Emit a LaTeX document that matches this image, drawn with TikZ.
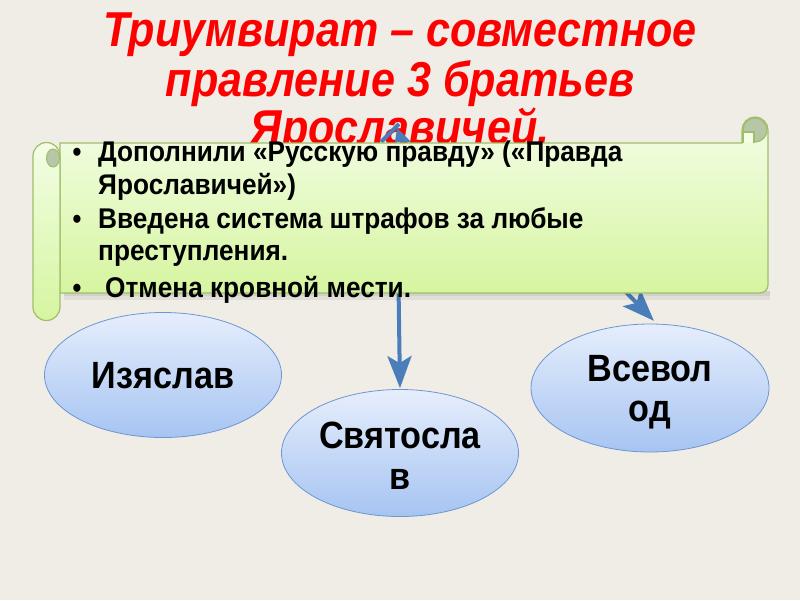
\documentclass[tikz,border=0pt]{standalone}
\usepackage{fontspec}
\setmainfont{Liberation Sans}
\newfontfamily\narrowfont[FakeStretch=0.88]{Liberation Sans}
\newfontfamily\bodyfont[FakeStretch=0.9]{Liberation Sans}
\newfontfamily\scrollfont[FakeStretch=0.92]{Liberation Sans}
\usetikzlibrary{arrows.meta,shapes.geometric}
\definecolor{bgc}{RGB}{240,236,230}
\definecolor{titlered}{RGB}{255,0,0}
\definecolor{arrblue}{RGB}{74,126,187}
\definecolor{scrolltop}{RGB}{243,253,230}
\definecolor{scrollbot}{RGB}{214,245,160}
\definecolor{scrollline}{RGB}{160,190,105}
\definecolor{curlgray}{RGB}{184,198,168}
\definecolor{elltop}{RGB}{230,238,252}
\definecolor{ellbot}{RGB}{166,196,242}
\definecolor{ellline}{RGB}{110,150,210}
\tikzset{
  titletext/.style={text=titlered, font=\narrowfont\bfseries\itshape\fontsize{49}{52}\selectfont, anchor=base, inner sep=0},
  scrolltext/.style={text=black, font=\scrollfont\bfseries\fontsize{28.5}{32}\selectfont, anchor=base west, inner sep=0},
  bullettext/.style={text=black, font=\bodyfont\bfseries\fontsize{28}{32}\selectfont, anchor=base, inner sep=0},
  brother/.style={ellipse, draw=ellline, line width=0.8pt, top color=elltop, bottom color=ellbot, inner sep=0},
  ellitext/.style={text=black, font=\bodyfont\bfseries\fontsize{38}{42}\selectfont, anchor=base, inner sep=0},
  arrowline/.style={draw=arrblue, line width=4pt, -{Stealth[length=32pt,width=24pt,inset=7pt]}},
}
\begin{document}
\begin{tikzpicture}[x=1pt,y=-1pt]
\useasboundingbox (0,0) rectangle (800,600);
\fill[bgc] (0,0) rectangle (800,600);

% title
\node[titletext] (t1) at (400,46) {Триумвират – совместное};
\node[titletext] (t2) at (400,96) {правление 3 братьев};
\node[titletext] (t3) at (400,144) {Ярославичей.};

% brothers
\node[brother, minimum width=237pt, minimum height=125pt] (izy) at (163,375) {};
\node[brother, minimum width=237pt, minimum height=127pt] (svt) at (400,453) {};
\node[brother, minimum width=238pt, minimum height=128pt] (vsv) at (650,388) {};
\node[ellitext] (izyt) at (163,388) {Изяслав};
\node[ellitext] (svt1) at (400,448) {Святосла};
\node[ellitext] (svt2) at (400,489) {в};
\node[ellitext] (vsv1) at (650,381) {Всевол};
\node[ellitext] (vsv2) at (650,421) {од};

% arrows (partly hidden by the scroll)
\coordinate (s1) at (398,250);
\coordinate (s2) at (585,250);
\draw[arrowline, shorten >=1pt] (s1) -- (svt.north);
\draw[arrowline, shorten >=4pt] (s2) -- (vsv.84);
\coordinate (f1) at (381,142);
\coordinate (f2) at (399,124);
\draw[arrblue, line width=4pt] (f1) -- (f2);
\fill[arrblue] (397,128) -- (411,142) -- (395,142) -- cycle;

% scroll shadow
\fill[black, opacity=0.06] (64,291) rectangle (770,300);
\fill[black, opacity=0.06] (64,291) rectangle (770,296);
% scroll body
\path[top color=scrolltop, bottom color=scrollbot, draw=scrollline, line width=1.2pt]
  (60,143) -- (742,143) -- (742,130) arc (180:360:13) -- (768,285)
  arc (0:90:8) -- (60,293) -- cycle;
% right curl
\fill[curlgray, draw=scrollline, line width=1.2pt] (755,130) circle (12);
\path[fill=scrolltop, draw=scrollline, line width=1.2pt] (743,143) -- (743,132) -- (754,132) -- (754,143);
% left roll
\path[top color=scrolltop, bottom color=scrollbot, draw=scrollline, line width=1.2pt]
  (33,156) arc (180:360:13.5) -- (60,307) arc (0:180:13.5) -- cycle;
\fill[curlgray, draw=scrollline, line width=1pt] (53,158) ellipse (6.5 and 9);

% scroll text
\node[bullettext] (b1) at (77,161) {•};
\node[scrolltext] (l1) at (98,161) {Дополнили «Русскую правду» («Правда};
\node[scrolltext] (l2) at (98,194) {Ярославичей»)};
\node[bullettext] (b2) at (77,228) {•};
\node[scrolltext] (l3) at (98,228) {Введена система штрафов за любые};
\node[scrolltext] (l4) at (98,260) {преступления.};
\node[bullettext] (b3) at (77,297) {•};
\node[scrolltext] (l5) at (105,297) {Отмена кровной мести.};
\end{tikzpicture}
\end{document}
